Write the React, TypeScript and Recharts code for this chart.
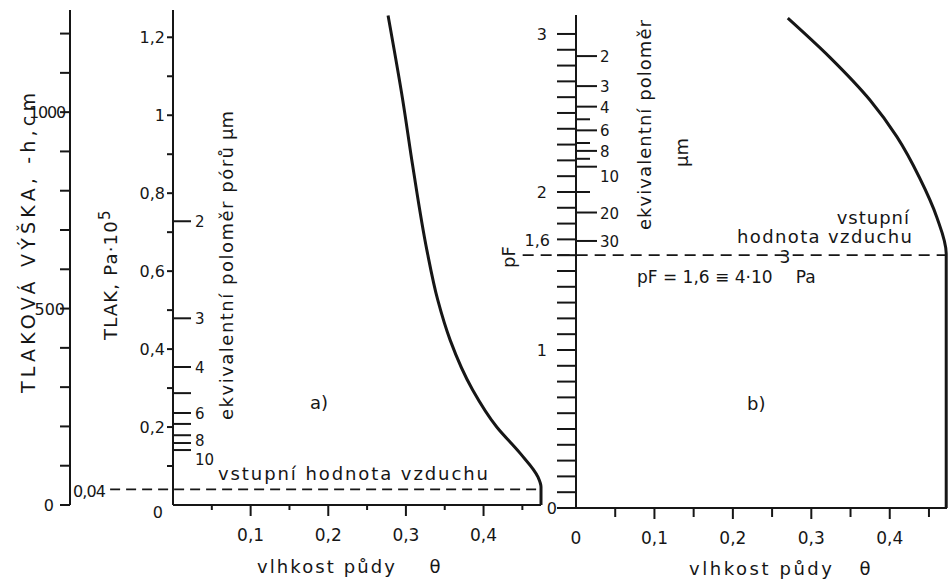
import React from "react";
import { LineChart, Line, XAxis, YAxis, ReferenceLine } from "recharts";

const INK = "#161616";
const FONT = "'DejaVu Sans', 'Liberation Sans', sans-serif";

// a) tlak (Pa·10^5) proti vlhkosti půdy
const curveThetaA = [0.277, 0.296, 0.309, 0.327, 0.341, 0.357, 0.386, 0.417, 0.447, 0.47, 0.474, 0.474];
const curvePressureA = [1.256, 1.038, 0.867, 0.654, 0.526, 0.423, 0.295, 0.2, 0.133, 0.072, 0.046, 0];

// b) pF proti vlhkosti půdy
const curveThetaB = [0.27, 0.324, 0.375, 0.409, 0.438, 0.46, 0.472, 0.472];
const curvePF = [3.1, 2.85, 2.58, 2.35, 2.09, 1.84, 1.61, 0];

const airEntryPressure = 0.04;
const airEntryPF = 1.6;

// osa x (obě části)
const thetaTicks = [0, 0.05, 0.1, 0.15, 0.2, 0.25, 0.3, 0.35, 0.4, 0.45];
const thetaLabelsA = ["", "", "0,1", "", "0,2", "", "0,3", "", "0,4", ""];
const thetaLabelsB = ["0", "", "0,1", "", "0,2", "", "0,3", "", "0,4", ""];

// a) osy
const pressureTicks = [0, 0.1, 0.2, 0.3, 0.4, 0.5, 0.6, 0.7, 0.8, 0.9, 1, 1.1, 1.2];
const pressureLabels = ["0", "", "0,2", "", "0,4", "", "0,6", "", "0,8", "", "1", "", "1,2"];
const headTicks = [0, 100, 200, 300, 400, 500, 600, 700, 800, 900, 1000, 1100, 1200];
const headLabels = ["0", "", "", "", "", "500", "", "", "", "", "1000", "", ""];
const poreTicksA = [0.728, 0.479, 0.354, 0.287, 0.236, 0.208, 0.179, 0.159, 0.141];
const poreLabelsA = ["2", "3", "4", "", "6", "", "8", "", "10"];

// b) osy
const pfTicks = [
  0, 0.1, 0.2, 0.3, 0.4, 0.5, 0.6, 0.7, 0.8, 0.9, 1, 1.1, 1.2, 1.3, 1.4, 1.5,
  1.6, 1.7, 1.8, 1.9, 2, 2.1, 2.2, 2.3, 2.4, 2.5, 2.6, 2.7, 2.8, 2.9, 3,
];
const pfLabelValues = [0, 1, 1.6, 2, 3];
const pfLabels = ["0", "1", "1,6", "2", "3"];
const poreTicksB = [2.86, 2.67, 2.54, 2.46, 2.39, 2.31, 2.26, 2.21, 2.16, 2.0, 1.87, 1.69];
const poreLabelsB = ["2", "3", "4", "", "6", "", "8", "", "10", "", "20", "30"];

const rowsA = curveThetaA.map((t, i) => ({ theta: t, p: curvePressureA[i] }));
const rowsB = curveThetaB.map((t, i) => ({ theta: t, pf: curvePF[i] }));

const txt = { fill: INK, fontFamily: FONT, stroke: "none" } as const;
const axisLine = { stroke: INK, strokeWidth: 2 };

function ThetaTick(props: any) {
  const { x, y, index, labels, minor } = props;
  if (index === 0 && !labels[0]) return <g />;
  const major = index % 2 === 0;
  return (
    <g>
      {index > 0 && <line x1={x} x2={x} y1={y} y2={y + (major ? 11 : minor)} stroke={INK} strokeWidth={2} />}
      {labels[index] && (
        <text x={x} y={y + 36} textAnchor="middle" fontSize={17} {...txt}>
          {labels[index]}
        </text>
      )}
    </g>
  );
}

function PressureTick(props: any) {
  const { x, y, index } = props;
  const label = pressureLabels[index];
  const zero = index === 0;
  return (
    <g>
      {!zero && <line x1={x - 6} x2={x} y1={y} y2={y} stroke={INK} strokeWidth={2} />}
      {label && (
        <text x={zero ? x - 10 : x - 8} y={zero ? y + 13 : y + 6} textAnchor="end" fontSize={16} {...txt}>
          {label}
        </text>
      )}
    </g>
  );
}

function HeadTick(props: any) {
  const { x, y, index } = props;
  const label = headLabels[index];
  return (
    <g>
      <line x1={x - 10} x2={x} y1={y} y2={y} stroke={INK} strokeWidth={2} />
      {label && (
        <text
          x={index === 0 ? x - 16 : x - 5}
          y={y + 6}
          textAnchor="end"
          fontSize={16}
          letterSpacing={label.length > 3 ? -1.2 : 0}
          {...txt}
        >
          {label}
        </text>
      )}
    </g>
  );
}

function PoreTick(props: any) {
  const { x, y, index, labels, len, gap } = props;
  const label = labels[index];
  const shift = label === "10" ? 9 : label === "8" && len < 20 ? 5 : 0;
  return (
    <g>
      <line x1={x} x2={x + (label || len < 20 ? len : len - 7)} y1={y} y2={y} stroke={INK} strokeWidth={2} />
      {label && (
        <text x={x + gap} y={y + 6 + shift} textAnchor="start" fontSize={15} {...txt}>
          {label}
        </text>
      )}
    </g>
  );
}

function PfTick(props: any) {
  const { x, y, payload } = props;
  const li = pfLabelValues.indexOf(payload.value);
  const label = li >= 0 ? pfLabels[li] : "";
  let lx = x - 29;
  let ly = y + 6;
  if (payload.value === 0) lx = x - 19;
  if (label === "1,6") {
    lx = x - 26;
    ly = y - 9;
  }
  return (
    <g>
      <line x1={x - 19} x2={x} y1={y} y2={y} stroke={INK} strokeWidth={2} />
      {label && (
        <text x={lx} y={ly} textAnchor="end" fontSize={16} {...txt}>
          {label}
        </text>
      )}
    </g>
  );
}

function VText({ x, y, children, size = 18, length, anchor = "start" }: any) {
  return (
    <text
      transform={`translate(${x},${y}) rotate(-90)`}
      fontSize={size}
      textAnchor={anchor}
      textLength={length}
      lengthAdjust={length ? "spacing" : undefined}
      {...txt}
    >
      {children}
    </text>
  );
}

export default function App() {
  return (
    <div style={{ position: "absolute", left: 0, top: 0, width: 948, height: 580, background: "#fff", overflow: "hidden" }}>
      <div style={{ position: "absolute", left: 0, top: 0 }}>
        <LineChart width={560} height={580} data={rowsA} margin={{ top: 10, right: 19, bottom: 15, left: 0 }}>
          <XAxis
            dataKey="theta"
            type="number"
            domain={[0, 0.474]}
            ticks={thetaTicks}
            interval={0}
            height={60}
            tickSize={0}
            tickMargin={0}
            tickLine={false}
            axisLine={axisLine}
            tick={(p: any) => <ThetaTick {...p} labels={thetaLabelsA} minor={5} />}
          />
          {/* tlak Pa·10^5, osa u grafu */}
          <YAxis
            yAxisId="p1"
            type="number"
            domain={[0, 1.27]}
            ticks={pressureTicks}
            interval={0}
            width={103}
            tickSize={0}
            tickMargin={0}
            tickLine={false}
            axisLine={axisLine}
            tick={PressureTick}
          />
          {/* tlaková výška -h (cm), vnější osa */}
          <YAxis
            yAxisId="p2"
            type="number"
            domain={[0, 1260]}
            allowDataOverflow
            ticks={headTicks}
            interval={0}
            width={70}
            tickSize={0}
            tickMargin={0}
            tickLine={false}
            axisLine={axisLine}
            tick={HeadTick}
          />
          <YAxis
            yAxisId="r"
            type="number"
            mirror
            domain={[0, 1.27]}
            allowDataOverflow
            ticks={poreTicksA}
            interval={0}
            width={30}
            tickSize={0}
            tickMargin={0}
            tickLine={false}
            axisLine={false}
            tick={(p: any) => <PoreTick {...p} labels={poreLabelsA} len={18} gap={22} />}
          />
          <ReferenceLine
            yAxisId="p1"
            ifOverflow="visible"
            segment={[
              { x: -0.081, y: airEntryPressure },
              { x: 0.474, y: airEntryPressure },
            ]}
            stroke={INK}
            strokeWidth={1.8}
            strokeDasharray="10 6"
          />
          <Line
            yAxisId="p1"
            dataKey="p"
            type="monotoneY"
            stroke={INK}
            strokeWidth={3}
            dot={false}
            isAnimationActive={false}
          />
        </LineChart>
      </div>

      <div style={{ position: "absolute", left: 490, top: 0 }}>
        <LineChart width={458} height={580} data={rowsB} margin={{ top: 15, right: 1, bottom: 12, left: 0 }}>
          <XAxis
            dataKey="theta"
            type="number"
            domain={[0, 0.473]}
            ticks={thetaTicks}
            interval={0}
            height={60}
            tickSize={0}
            tickMargin={0}
            tickLine={false}
            axisLine={axisLine}
            tick={(p: any) => <ThetaTick {...p} labels={thetaLabelsB} minor={9} />}
          />
          <YAxis
            yAxisId="pf"
            type="number"
            domain={[0, 3.12]}
            ticks={pfTicks}
            interval={0}
            width={86}
            tickSize={0}
            tickMargin={0}
            tickLine={false}
            axisLine={axisLine}
            tick={PfTick}
          />
          <YAxis
            yAxisId="r"
            type="number"
            mirror
            domain={[0, 3.12]}
            allowDataOverflow
            ticks={poreTicksB}
            interval={0}
            width={30}
            tickSize={0}
            tickMargin={0}
            tickLine={false}
            axisLine={false}
            tick={(p: any) => <PoreTick {...p} labels={poreLabelsB} len={21} gap={24} />}
          />
          <ReferenceLine
            yAxisId="pf"
            ifOverflow="visible"
            segment={[
              { x: -0.068, y: airEntryPF },
              { x: 0.472, y: airEntryPF },
            ]}
            stroke={INK}
            strokeWidth={1.8}
            strokeDasharray="11 7"
          />
          <Line
            yAxisId="pf"
            dataKey="pf"
            type="monotoneY"
            stroke={INK}
            strokeWidth={3}
            dot={false}
            isAnimationActive={false}
          />
        </LineChart>
      </div>

      <svg width={948} height={580} style={{ position: "absolute", left: 0, top: 0, pointerEvents: "none" }}>
        <VText x={35} y={393} size={19} length={300}>TLAKOVÁ VÝŠKA, -h,cm</VText>
        <text transform="translate(117,340) rotate(-90)" fontSize={18} letterSpacing={1.2} {...txt}>
          TLAK, Pa·10<tspan dy={-7} fontSize={15}>5</tspan>
        </text>
        <VText x={233} y={420} length={273}>ekvivalentní poloměr pórů</VText>
        <VText x={233} y={140}>μm</VText>

        <text x={310} y={409} fontSize={18} {...txt}>a)</text>
        <text x={218} y={480} fontSize={18} textLength={270} lengthAdjust="spacing" {...txt}>
          vstupní hodnota vzduchu
        </text>
        <text x={73} y={497} fontSize={16} textLength={33} lengthAdjust="spacing" {...txt}>0,04</text>
        <text x={257} y={573} fontSize={18} textLength={138} lengthAdjust="spacing" {...txt}>vlhkost půdy</text>
        <text x={435} y={573} fontSize={18} textAnchor="middle" {...txt}>θ</text>

        <VText x={515} y={268}>pF</VText>
        <VText x={651} y={230} length={210}>ekvivalentní poloměr</VText>
        <VText x={688} y={167}>μm</VText>
        <text x={910} y={224} fontSize={18} textAnchor="end" letterSpacing={1} {...txt}>vstupní</text>
        <text x={737} y={243} fontSize={18} textLength={175} lengthAdjust="spacing" {...txt}>hodnota vzduchu</text>
        <text x={637} y={283} fontSize={17} {...txt}>
          pF = 1,6 ≡ 4·10<tspan dy={-20} dx={7}>3</tspan>
          <tspan dy={20}> Pa</tspan>
        </text>
        <text x={747} y={410} fontSize={18} {...txt}>b)</text>
        <text x={689} y={575} fontSize={18} textLength={143} lengthAdjust="spacing" {...txt}>vlhkost půdy</text>
        <text x={865} y={575} fontSize={18} textAnchor="middle" {...txt}>θ</text>
      </svg>
    </div>
  );
}
